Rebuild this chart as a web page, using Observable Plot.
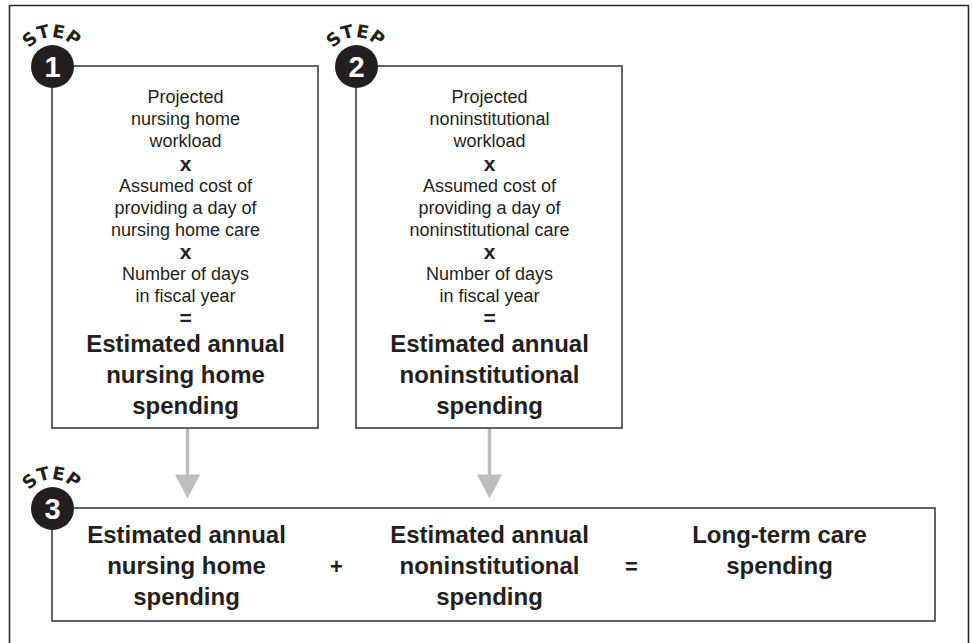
<!DOCTYPE html>
<html>
<head>
<meta charset="utf-8">
<script src="https://cdn.jsdelivr.net/npm/d3@7"></script>
<script src="https://cdn.jsdelivr.net/npm/@observablehq/plot@0.6"></script>
<style>
  html, body { margin: 0; padding: 0; background: #fff; }
  #chart svg { display: block; }
</style>
</head>
<body>
<div id="chart"></div>
<script>
// ---------- content ----------
const stepLabels = ["1", "2", "3"];
const stepWord = ["S", "T", "E", "P"];

const step1Factors = [
  ["Projected", "nursing home", "workload"],
  ["Assumed cost of", "providing a day of", "nursing home care"],
  ["Number of days", "in fiscal year"]
];
const step1Result = ["Estimated annual", "nursing home", "spending"];

const step2Factors = [
  ["Projected", "noninstitutional", "workload"],
  ["Assumed cost of", "providing a day of", "noninstitutional care"],
  ["Number of days", "in fiscal year"]
];
const step2Result = ["Estimated annual", "noninstitutional", "spending"];

const stepOperators = ["x", "x", "="];

const step3Terms = [
  ["Estimated annual", "nursing home", "spending"],
  ["Estimated annual", "noninstitutional", "spending"],
  ["Long-term care", "spending"]
];
const step3Operators = ["+", "="];

// ---------- layout ----------
const W = 972, H = 643;
const ink = "#231f20";
const font = "'Liberation Sans', Arial, Helvetica, sans-serif";

const boxes = [
  {step: stepLabels[0], x1: 52, x2: 318, y1: 66, y2: 428},
  {step: stepLabels[1], x1: 356, x2: 622, y1: 66, y2: 428},
  {step: stepLabels[2], x1: 52, x2: 935, y1: 508, y2: 621}
];

const bodyRows = [], opRows = [], resultRows = [];
[[step1Factors, step1Result, boxes[0]], [step2Factors, step2Result, boxes[1]]].forEach(([factors, result, b]) => {
  const cx = (b.x1 + b.x2) / 2;
  let y = 97;
  const step = 22.1;
  factors.forEach((group, gi) => {
    group.forEach(t => { bodyRows.push({x: cx, y, text: t}); y += step; });
    opRows.push({x: cx, y, text: stepOperators[gi]});
    y += step;
  });
  let ry = y - step + 25.5;
  result.forEach(t => { resultRows.push({x: cx, y: ry, text: t}); ry += 31; });
});

const step3Cols = [186, 489, 779];
const step3OpX = [336, 631];
const step3Rows = [];
step3Terms.forEach((term, i) => term.forEach((t, k) => step3Rows.push({x: step3Cols[i], y: 535 + 31 * k, text: t})));
const step3OpRows = step3Operators.map((t, i) => ({x: step3OpX[i], y: 566, text: t}));

const badges = boxes.map(b => ({x: b.x1, y: b.y1, text: b.step}));
const letterAngles = [-40, -15, 10, 36];
const R = 35;
const letters = [];
badges.forEach(b => stepWord.forEach((ch, i) => {
  const a = letterAngles[i] * Math.PI / 180;
  letters.push({x: b.x + R * Math.sin(a), y: b.y - R * Math.cos(a), text: ch, rotate: letterAngles[i]});
}));

// arrows from step 1 and step 2 boxes down to step 3
const arrowX = [187, 489];
const arrowShafts = arrowX.map(x => ({x, y1: 428, y2: 476}));
const arrowHeads = [];
arrowX.forEach((x, i) => {
  arrowHeads.push({x: x - 12.5, y: 474, z: i}, {x: x + 12.5, y: 474, z: i}, {x, y: 498, z: i}, {x: x - 12.5, y: 474, z: i});
});

const frame = [{x: 9, y: H + 5}, {x: 9, y: 5}, {x: 968, y: 5}, {x: 968, y: H + 5}];

const chart = Plot.plot({
  width: W,
  height: H,
  margin: 0,
  x: {domain: [0, W], range: [0, W], axis: null},
  y: {domain: [0, H], range: [0, H], axis: null},
  style: {fontFamily: font, background: "#fff"},
  marks: [
    Plot.line(frame, {x: "x", y: "y", stroke: "#2b2b2b", strokeWidth: 1.6}),
    Plot.ruleX(arrowShafts, {x: "x", y1: "y1", y2: "y2", stroke: "#bdbdbf", strokeWidth: 3.5}),
    Plot.line(arrowHeads, {x: "x", y: "y", z: "z", fill: "#bdbdbf", stroke: "none"}),
    Plot.rect(boxes, {x1: "x1", x2: "x2", y1: "y1", y2: "y2", fill: "none", stroke: "#4a4a4a", strokeWidth: 1.7}),
    Plot.text(bodyRows, {x: "x", y: "y", text: "text", fill: ink, fontSize: 18}),
    Plot.text(opRows, {x: "x", y: "y", text: "text", fill: ink, fontSize: 21, fontWeight: "bold"}),
    Plot.text(resultRows, {x: "x", y: "y", text: "text", fill: ink, fontSize: 24, fontWeight: "bold"}),
    Plot.text(step3Rows, {x: "x", y: "y", text: "text", fill: ink, fontSize: 24, fontWeight: "bold"}),
    Plot.text(step3OpRows, {x: "x", y: "y", text: "text", fill: ink, fontSize: 22, fontWeight: "bold"}),
    Plot.dot(badges, {x: "x", y: "y", r: 21.5, fill: ink, stroke: "none"}),
    Plot.text(badges, {x: "x", y: "y", text: "text", fill: "#fff", fontSize: 29, fontWeight: "bold", dy: 1}),
    Plot.text(letters, {x: "x", y: "y", text: "text", rotate: "rotate", fill: ink, fontSize: 18, fontWeight: "bold", fontFamily: "'DejaVu Sans', sans-serif"})
  ]
});
document.getElementById("chart").appendChild(chart);
</script>
</body>
</html>
